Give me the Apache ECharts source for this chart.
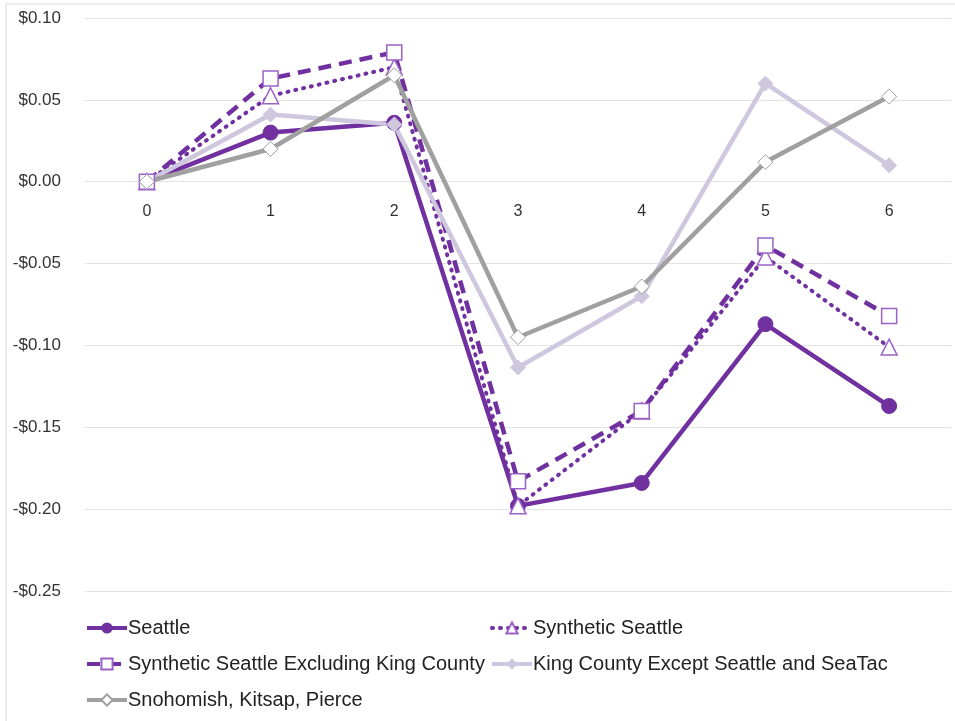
<!DOCTYPE html>
<html><head><meta charset="utf-8">
<script src="https://cdn.jsdelivr.net/npm/echarts@6/dist/echarts.min.js"></script>
<style>html,body{margin:0;padding:0;background:#fff}#c{width:955px;height:721px}</style>
</head><body><div id="c"></div>
<script>
const categories = ['0','1','2','3','4','5','6'];
const seattle = [0, 0.030, 0.036, -0.198, -0.184, -0.087, -0.137];
const syntheticSeattle = [0, 0.0525, 0.070, -0.198, -0.140, -0.046, -0.101];
const syntheticExclKing = [0, 0.063, 0.079, -0.183, -0.140, -0.039, -0.082];
const kingExcept = [0, 0.041, 0.035, -0.1135, -0.070, 0.060, 0.010];
const snohomish = [0, 0.020, 0.065, -0.095, -0.064, 0.012, 0.052];
const names = ['Seattle','Synthetic Seattle','Synthetic Seattle Excluding King County','King County Except Seattle and SeaTac','Snohomish, Kitsap, Pierce'];

const purple = '#7030A0';
const font = 'Liberation Sans';
const chart = echarts.init(document.getElementById('c'));
function fmt(v){ return (v < 0 ? '-$' : '$') + Math.abs(v).toFixed(2); }
function legend(name, left, top){
  return { data:[name], left:left, top:top, itemWidth:40, itemHeight:14, itemGap:0,
    lineStyle:{width:4},
    textStyle:{fontFamily:font, fontSize:20, color:'#222', padding:[0,0,0,-4]} };
}
chart.setOption({
  animation:false,
  graphic:[{type:'rect', shape:{x:6,y:4,width:960,height:730}, style:{fill:'none', stroke:'#d9d9d9', lineWidth:1}}],
  grid:{left:85, right:4, top:18, bottom:130},
  legend:[
    legend(names[0], 80, 613),
    legend(names[1], 485, 613),
    legend(names[2], 80, 649),
    legend(names[3], 485, 649),
    legend(names[4], 80, 685)
  ],
  xAxis:{type:'category', data:categories, axisLine:{show:false}, axisTick:{show:false},
    axisLabel:{fontFamily:font, fontSize:16, color:'#333', margin:-387}},
  yAxis:{type:'value', min:-0.25, max:0.10, interval:0.05, axisLabel:{formatter:fmt, fontFamily:font, fontSize:17, color:'#333', margin:24},
    splitLine:{lineStyle:{color:'#e3e3e3', width:1}}},
  series:[
    {name:names[0], type:'line', data:seattle, symbol:'circle', symbolSize:15,
      lineStyle:{color:purple, width:4.5}, itemStyle:{color:purple, borderColor:purple}},
    {name:names[1], type:'line', data:syntheticSeattle, symbol:'triangle', symbolSize:16,
      lineStyle:{color:purple, width:4, type:[1,7], cap:'round'}, itemStyle:{color:'#fff', borderColor:'#9a62c8', borderWidth:1.5}},
    {name:names[2], type:'line', data:syntheticExclKing, symbol:'rect', symbolSize:15,
      lineStyle:{color:purple, width:4.5, type:[13,8]}, itemStyle:{color:'#fff', borderColor:'#9a62c8', borderWidth:1.5}},
    {name:names[3], type:'line', data:kingExcept, symbol:'diamond', symbolSize:15,
      lineStyle:{color:'#cfc7de', width:4.5}, itemStyle:{color:'#cfc7de', borderColor:'#cfc7de'}},
    {name:names[4], type:'line', data:snohomish, symbol:'diamond', symbolSize:15,
      lineStyle:{color:'#a0a0a0', width:4.5}, itemStyle:{color:'#fff', borderColor:'#a0a0a0', borderWidth:1}}
  ]
});
</script></body></html>
